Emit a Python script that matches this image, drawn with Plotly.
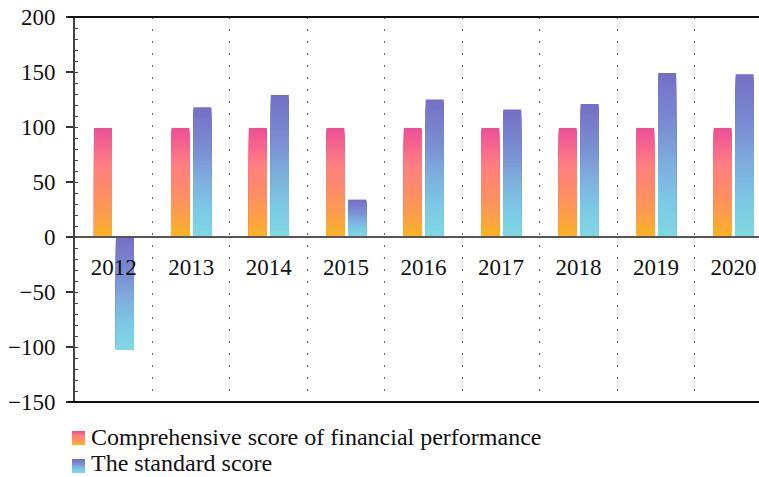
import plotly.graph_objects as go

years = ["2012", "2013", "2014", "2015", "2016", "2017", "2018", "2019", "2020"]
comprehensive = [99, 99, 99, 99, 99, 99, 99, 99, 99]
standard = [-102, 118, 129, 34, 125, 116, 121, 149, 148]
series_names = ["Comprehensive score of financial performance", "The standard score"]

# gradient stops (top of bar -> bottom of bar)
orange_stops = [(0.0, (238, 80, 150)), (0.35, (255, 128, 128)), (0.55, (254, 138, 106)), (0.8, (252, 158, 76)), (1.0, (251, 180, 36))]
blue_stops = [(0.0, (116, 112, 197)), (0.35, (123, 145, 211)), (0.55, (126, 174, 221)), (0.8, (124, 202, 230)), (1.0, (128, 216, 227))]

FONT = "Liberation Serif"
N = 60

W, H = 759, 477
ML, MR, MT, MB = 75, 0, 17, 75
PW, PH = W - ML - MR, H - MT - MB


def px(x):
    return (x - ML) / PW


def py(y):
    return (H - MB - y) / PH


def interp(stops, t):
    for (t0, c0), (t1, c1) in zip(stops[:-1], stops[1:]):
        if t <= t1:
            f = (t - t0) / (t1 - t0) if t1 > t0 else 0
            return "rgb(%d,%d,%d)" % tuple(round(a + (b - a) * f) for a, b in zip(c0, c1))
    return "rgb(%d,%d,%d)" % stops[-1][1]


fig = go.Figure()

for vals, stops, off in [(comprehensive, orange_stops, -0.255), (standard, blue_stops, 0.028)]:
    bottoms = [min(0, v) for v in vals]
    heights = [abs(v) for v in vals]
    for k in range(N):
        frac = 1 - k / N
        fig.add_trace(go.Bar(
            x=years, y=[h * frac for h in heights], base=bottoms,
            width=0.232, offset=off,
            marker=dict(color=interp(stops, k / (N - 1)), line=dict(width=0)),
            showlegend=False, hoverinfo="skip",
        ))

# manual legend with gradient swatches
shapes = [
    dict(type="line", xref="paper", yref="paper", x0=px(68), x1=1, y0=1, y1=1,
         line=dict(color="#111", width=2), layer="above"),
    dict(type="line", xref="paper", yref="paper", x0=px(68), x1=1, y0=0, y1=0,
         line=dict(color="#111", width=2), layer="above"),
]
annotations = []
legend_rows = [(series_names[0], orange_stops, 437, 438), (series_names[1], blue_stops, 463, 466)]
SW = 14
for name, stops, cy, sy in legend_rows:
    top = sy - 7
    for i in range(SW):
        shapes.append(dict(type="rect", xref="paper", yref="paper",
                           x0=px(72), x1=px(85), y0=py(top + i), y1=py(top + i + 1.05),
                           fillcolor=interp(stops, i / (SW - 1)), line=dict(width=0)))
    annotations.append(dict(text=name, xref="paper", yref="paper", x=px(89), y=py(cy),
                            xanchor="left", yanchor="middle", showarrow=False,
                            font=dict(family=FONT, size=24, color="#111")))

fig.update_layout(
    width=W, height=H,
    margin=dict(l=ML, r=MR, t=MT, b=MB),
    paper_bgcolor="white", plot_bgcolor="white",
    barmode="overlay",
    font=dict(family=FONT, size=23, color="#111"),
    showlegend=False,
    xaxis=dict(
        type="category", range=[-0.5, 8.33],
        anchor="free", position=150 / 350, automargin=False,
        showline=True, linecolor="#555", linewidth=2,
        tickson="boundaries", ticks="", ticklabelstandoff=9,
        showgrid=True, gridcolor="#666", gridwidth=1, griddash="1.5px,10.5px",
        tickfont=dict(family=FONT, size=23, color="#111"),
        zeroline=False,
    ),
    yaxis=dict(
        range=[-150, 200], dtick=50, tick0=0, automargin=False,
        showline=True, linecolor="#444", linewidth=2,
        ticks="outside", ticklen=7, tickwidth=2, tickcolor="#333",
        minor=dict(dtick=10, ticks="inside", ticklen=3, tickcolor="#444", tickwidth=1),
        showgrid=False, zeroline=False,
        tickfont=dict(family=FONT, size=23, color="#111"),
        ticklabelstandoff=6,
    ),
    shapes=shapes,
    annotations=annotations,
)

fig.write_html("out.html", config={"displayModeBar": False},
               post_script="document.body.style.margin='0';document.body.style.overflow='hidden';")
